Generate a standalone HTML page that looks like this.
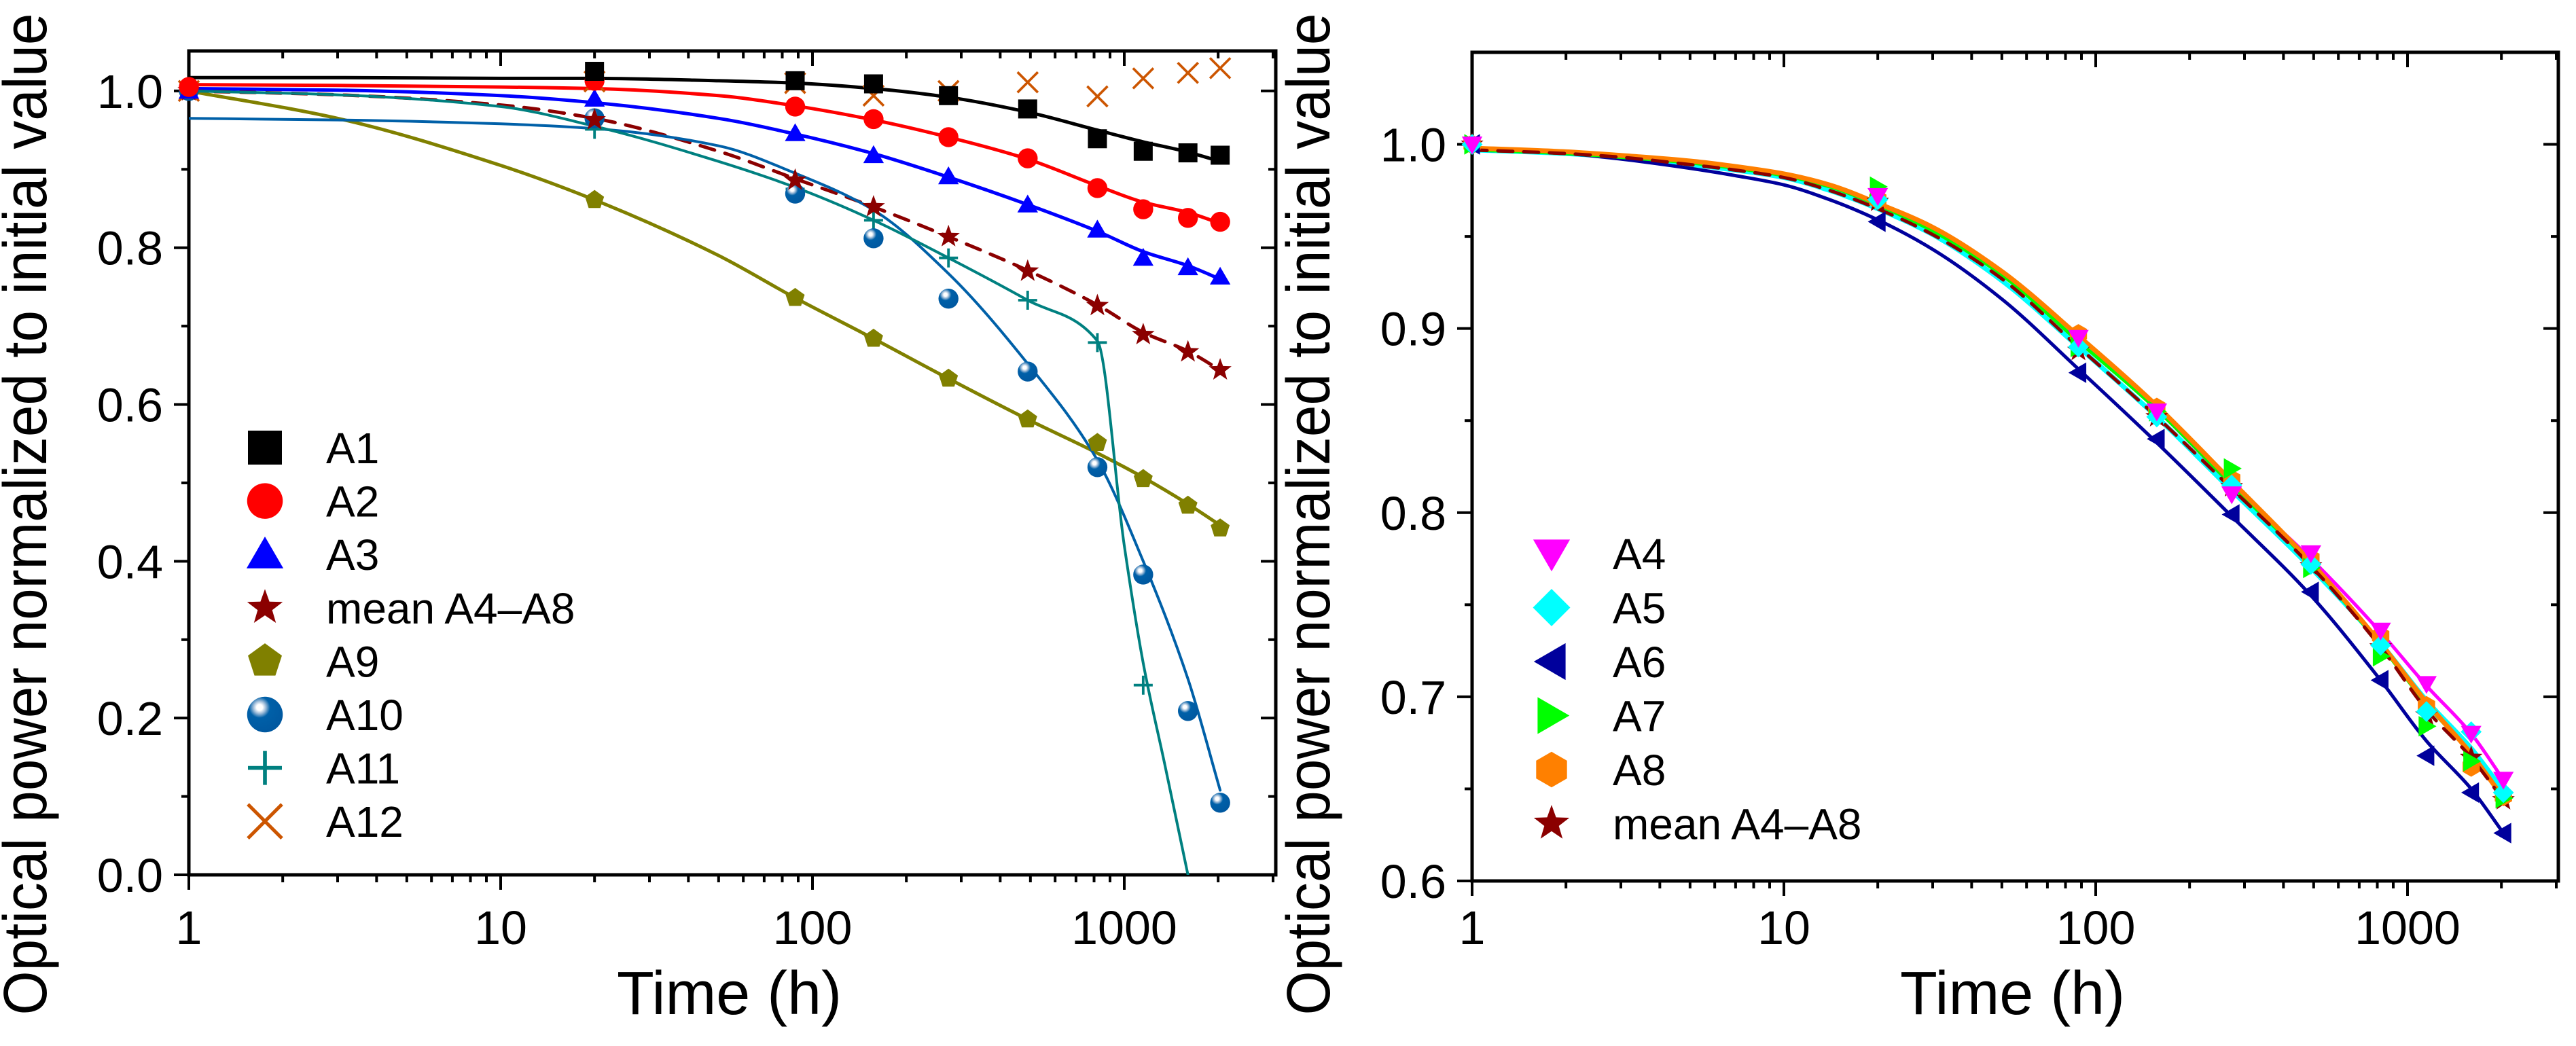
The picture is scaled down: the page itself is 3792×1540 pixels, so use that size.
<!DOCTYPE html>
<html><head><meta charset="utf-8"><style>
html,body{margin:0;padding:0;background:#fff;}
svg{display:block;font-family:"Liberation Sans",Arial,sans-serif;}
</style></head><body>
<svg id="chart" xmlns="http://www.w3.org/2000/svg" width="3792" height="1540" viewBox="0 0 3792 1540">
<defs>
<radialGradient id="sph" cx="0.35" cy="0.3" r="0.7">
<stop offset="0" stop-color="#ffffff"/><stop offset="0.12" stop-color="#ffffff"/><stop offset="0.25" stop-color="#9dbbd8"/><stop offset="0.42" stop-color="#0060a8"/><stop offset="1" stop-color="#0058a0"/>
</radialGradient>
</defs>
<g id="left"></g>
<g id="right"></g>
</svg>
<script>
// ---------- data ----------
const times = [1, 20, 88, 157, 273, 490, 820, 1150, 1600, 2030];
const xTickLabels = ["1", "10", "100", "1000"];
const leftYTicks = ["0.0", "0.2", "0.4", "0.6", "0.8", "1.0"];
const rightYTicks = ["0.6", "0.7", "0.8", "0.9", "1.0"];

const a1 = [null, 1.025, 1.013, 1.009, 0.994, 0.977, 0.939, 0.923, 0.921, 0.918];
const a2 = [1.005, 1.013, 0.980, 0.964, 0.941, 0.914, 0.876, 0.849, 0.838, 0.833];
const a3 = [1.0, 0.990, 0.946, 0.918, 0.891, 0.855, 0.823, 0.787, 0.775, 0.763];
const meanL = [1.0, 0.963, 0.886, 0.852, 0.814, 0.770, 0.726, 0.689, 0.667, 0.644];
const a9 = [1.0, 0.861, 0.736, 0.684, 0.633, 0.581, 0.551, 0.505, 0.471, 0.442];
const a10 = [1.0, 0.965, 0.869, 0.812, 0.735, 0.642, 0.520, 0.383, 0.209, 0.092];
const a11 = [1.0, 0.951, 0.875, 0.835, 0.787, 0.733, 0.679, 0.242, null, null];
const a12 = [1.0, 1.012, 1.010, 0.994, 1.0, 1.011, 0.993, 1.016, 1.023, 1.029];

const fitT = [1, 3, 10, 20, 50, 88, 157, 273, 490, 820, 1150, 1600, 2030];
const a1Fit = [1.017, 1.017, 1.016, 1.016, 1.013, 1.010, 1.003, 0.992, 0.973, 0.950, 0.935, 0.922, 0.910];
const a2Fit = [1.008, 1.007, 1.005, 1.003, 0.994, 0.981, 0.963, 0.941, 0.913, 0.879, 0.858, 0.845, 0.831];
const a3Fit = [1.003, 1.001, 0.994, 0.985, 0.965, 0.945, 0.920, 0.890, 0.855, 0.821, 0.795, 0.777, 0.760];
const meanLFit = [1.0, 0.995, 0.982, 0.965, 0.923, 0.888, 0.852, 0.814, 0.771, 0.727, 0.692, 0.668, 0.644];
const a9Fit = [1.0, 0.965, 0.905, 0.861, 0.790, 0.736, 0.684, 0.633, 0.581, 0.538, 0.507, 0.473, 0.446];
const a10Fit = [0.965, 0.963, 0.958, 0.952, 0.930, 0.895, 0.848, 0.767, 0.652, 0.529, 0.400, 0.250, 0.108];
const a11FitT = [1, 3, 10, 20, 50, 88, 157, 273, 490, 820, 1000, 1150, 1350, 1600];
const a11Fit = [1.0, 0.995, 0.980, 0.955, 0.910, 0.877, 0.835, 0.787, 0.733, 0.681, 0.42, 0.27, 0.14, 0.0];

const a4 = [1.0, 0.972, 0.895, 0.855, 0.810, 0.778, 0.736, 0.707, 0.680, 0.655];
const a5 = [1.0, 0.970, 0.890, 0.852, 0.815, 0.772, 0.728, 0.692, 0.681, 0.648];
const a6 = [1.0, 0.958, 0.876, 0.840, 0.799, 0.757, 0.709, 0.668, 0.648, 0.626];
const a7 = [1.0, 0.977, 0.890, 0.855, 0.824, 0.770, 0.722, 0.684, 0.665, 0.645];
const a8 = [1.0, 0.970, 0.897, 0.857, 0.818, 0.775, 0.733, 0.695, 0.662, 0.646];
const meanR = [1.0, 0.969, 0.888, 0.852, 0.814, 0.771, 0.727, 0.690, 0.667, 0.644];
const rFitT = [1, 2, 3, 5, 7, 10, 14, 20, 30, 50, 88, 157, 273, 490, 820, 1150, 1600, 2030];
const a4Fit = [0.997, 0.995, 0.993, 0.990, 0.987, 0.983, 0.977, 0.967, 0.953, 0.929, 0.893, 0.856, 0.815, 0.775, 0.735, 0.706, 0.680, 0.655];
const a5Fit = [0.997, 0.995, 0.993, 0.989, 0.986, 0.982, 0.975, 0.965, 0.951, 0.926, 0.890, 0.852, 0.812, 0.770, 0.729, 0.698, 0.672, 0.649];
const a6Fit = [0.997, 0.995, 0.992, 0.987, 0.983, 0.978, 0.970, 0.959, 0.943, 0.916, 0.878, 0.838, 0.798, 0.755, 0.709, 0.676, 0.650, 0.626];
const a7Fit = [0.997, 0.995, 0.993, 0.990, 0.987, 0.983, 0.977, 0.967, 0.953, 0.929, 0.893, 0.856, 0.815, 0.772, 0.728, 0.696, 0.669, 0.645];
const a8Fit = [0.998, 0.996, 0.994, 0.991, 0.988, 0.984, 0.978, 0.968, 0.955, 0.931, 0.896, 0.858, 0.817, 0.773, 0.729, 0.697, 0.669, 0.645];
const meanRFit = [0.997, 0.995, 0.993, 0.989, 0.986, 0.982, 0.975, 0.965, 0.951, 0.927, 0.890, 0.852, 0.813, 0.771, 0.727, 0.693, 0.667, 0.644];

// ---------- helpers ----------
const NS = "http://www.w3.org/2000/svg";
function mk(parent, tag, attrs) {
  const e = document.createElementNS(NS, tag);
  for (const k in attrs) e.setAttribute(k, attrs[k]);
  parent.appendChild(e);
  return e;
}
function smoothPath(pts) {
  const n = pts.length;
  const dx = [], m = [], t = [];
  for (let i = 0; i < n - 1; i++) { dx.push(pts[i + 1][0] - pts[i][0]); m.push((pts[i + 1][1] - pts[i][1]) / dx[i]); }
  t[0] = m[0]; t[n - 1] = m[n - 2];
  for (let i = 1; i < n - 1; i++) {
    if (m[i - 1] * m[i] <= 0) t[i] = 0;
    else { const w1 = 2 * dx[i] + dx[i - 1], w2 = dx[i] + 2 * dx[i - 1]; t[i] = (w1 + w2) / (w1 / m[i - 1] + w2 / m[i]); }
  }
  let d = "M" + pts[0][0].toFixed(1) + "," + pts[0][1].toFixed(1);
  for (let i = 0; i < n - 1; i++) {
    const h = dx[i] / 3;
    d += " C" + (pts[i][0] + h).toFixed(1) + "," + (pts[i][1] + t[i] * h).toFixed(1) + " " + (pts[i + 1][0] - h).toFixed(1) + "," + (pts[i + 1][1] - t[i + 1] * h).toFixed(1) + " " + pts[i + 1][0].toFixed(1) + "," + pts[i + 1][1].toFixed(1);
  }
  return d;
}
function marker(g, type, cx, cy, s, color) {
  let e;
  const r = s / 2;
  const poly = (n, rot, rr) => { const p = []; for (let i = 0; i < n; i++) { const a = rot + i * 2 * Math.PI / n; p.push((cx + rr * Math.cos(a)).toFixed(1) + "," + (cy + rr * Math.sin(a)).toFixed(1)); } return p.join(" "); };
  if (type === "square") e = mk(g, "rect", {x: cx - r, y: cy - r, width: s, height: s, fill: color});
  else if (type === "circle") e = mk(g, "ellipse", {cx: cx, cy: cy, rx: r * 1.05, ry: r * 1.05, fill: color});
  else if (type === "sphere") e = mk(g, "circle", {cx: cx, cy: cy, r: r * 1.05, fill: "url(#sph)"});
  else if (type === "up") e = mk(g, "polygon", {points: poly(3, -Math.PI / 2, r * 1.25), fill: color, transform: "translate(0," + (r * 0.2) + ")"});
  else if (type === "down") e = mk(g, "polygon", {points: poly(3, Math.PI / 2, r * 1.25), fill: color, transform: "translate(0," + (-r * 0.2) + ")"});
  else if (type === "left") e = mk(g, "polygon", {points: poly(3, Math.PI, r * 1.25), fill: color, transform: "translate(" + (r * 0.2) + ",0)"});
  else if (type === "right") e = mk(g, "polygon", {points: poly(3, 0, r * 1.25), fill: color, transform: "translate(" + (-r * 0.2) + ",0)"});
  else if (type === "diamond") e = mk(g, "polygon", {points: poly(4, 0, r * 1.1), fill: color});
  else if (type === "pentagon") e = mk(g, "polygon", {points: poly(5, -Math.PI / 2, r * 1.05), fill: color});
  else if (type === "hexagon") e = mk(g, "polygon", {points: poly(6, -Math.PI / 2, r * 1.05), fill: color});
  else if (type === "star") {
    const p = [];
    for (let i = 0; i < 10; i++) { const a = -Math.PI / 2 + i * Math.PI / 5; const rr = i % 2 ? r * 0.45 : r * 1.1; p.push((cx + rr * Math.cos(a)).toFixed(1) + "," + (cy + rr * Math.sin(a)).toFixed(1)); }
    e = mk(g, "polygon", {points: p.join(" "), fill: color});
  }
  else if (type === "plus") e = mk(g, "path", {d: "M" + (cx - r) + "," + cy + "H" + (cx + r) + "M" + cx + "," + (cy - r) + "V" + (cy + r), stroke: color, "stroke-width": s / 12 + 1.5, fill: "none"});
  else if (type === "cross") e = mk(g, "path", {d: "M" + (cx - r) + "," + (cy - r) + "L" + (cx + r) + "," + (cy + r) + "M" + (cx + r) + "," + (cy - r) + "L" + (cx - r) + "," + (cy + r), stroke: color, "stroke-width": s / 14 + 1.5, fill: "none"});
  return e;
}

function panel(g, cfg) {
  const X0 = cfg.x0, X1 = cfg.x1, Y0 = cfg.ytop, Y1 = cfg.ybot, DEC = 459;
  const xs = t => X0 + Math.log10(t) * DEC;
  const ys = v => Y1 - (v - cfg.vmin) / (cfg.vmax - cfg.vmin) * (Y1 - Y0);
  const axes = mk(g, "g", {});
  
  
  for (let dec = 0; dec < 4; dec++) {
    for (let m = 1; m < 10; m++) {
      const t = m * Math.pow(10, dec);
      const x = xs(t);
      if (x > X1 - 2) continue;
      const L = m === 1 ? 22 : 11;
      mk(axes, "line", {x1: x, x2: x, y1: Y1, y2: Y1 + L, stroke: "#000", "stroke-width": 4});
      mk(axes, "line", {x1: x, x2: x, y1: Y0, y2: Y0 + L, stroke: "#000", "stroke-width": 4});
    }
  }
  xTickLabels.forEach((lab, i) => {
    const tx = mk(axes, "text", {x: xs(Math.pow(10, i)), y: 1390, "font-size": 70, "text-anchor": "middle"});
    tx.textContent = lab;
    
    
  });
  const n = cfg.yLabels.length;
  for (let i = 0; i < n; i++) {
    const v = parseFloat(cfg.yLabels[i]);
    const y = ys(v);
    mk(axes, "line", {x1: X0 - 22, x2: X0, y1: y, y2: y, stroke: "#000", "stroke-width": 4});
    mk(axes, "line", {x1: X1 - 22, x2: X1, y1: y, y2: y, stroke: "#000", "stroke-width": 4});
    const tx = mk(axes, "text", {x: X0 - 38, y: y + 25, "font-size": 70, "text-anchor": "end"});
    tx.textContent = cfg.yLabels[i];
    
    
    const vm = v + cfg.ystep / 2;
    if (vm < cfg.vmax) {
      const ym = ys(vm);
      mk(axes, "line", {x1: X0 - 11, x2: X0, y1: ym, y2: ym, stroke: "#000", "stroke-width": 4});
      mk(axes, "line", {x1: X1 - 11, x2: X1, y1: ym, y2: ym, stroke: "#000", "stroke-width": 4});
    }
  }
  mk(axes, "rect", {x: X0, y: Y0, width: X1 - X0, height: Y1 - Y0, fill: "none", stroke: "#000", "stroke-width": 5});
  const xt = mk(axes, "text", {x: X0 + 630, y: 1493, "font-size": 90, textLength: 331, lengthAdjust: "spacingAndGlyphs"});
  xt.textContent = "Time (h)";
  
  
  const yt = mk(axes, "text", {x: 0, y: 0, "font-size": 90, "text-anchor": "middle", textLength: 1475, lengthAdjust: "spacingAndGlyphs", transform: "translate(" + (X0 - 210) + ",757) rotate(-90)"});
  yt.textContent = "Optical power normalized to initial value";
  
  

  const clipId = "clip" + cfg.id;
  const cp = mk(mk(g, "defs", {}), "clipPath", {id: clipId});
  mk(cp, "rect", {x: X0, y: Y0, width: X1 - X0, height: Y1 - Y0});
  const lines = mk(g, "g", {"clip-path": "url(#" + clipId + ")"});
  
  
  cfg.series.forEach(s => {
    if (!s.fit) return;
    const pts = s.fitT.map((t, i) => [xs(t), ys(s.fit[i])]);
    const p = mk(lines, "path", {d: smoothPath(pts), fill: "none", stroke: s.line || s.color, "stroke-width": s.lw || 5, "stroke-linecap": "round"});
    if (s.dash) p.setAttribute("stroke-dasharray", "22 16");
    
    
  });
  const marks = mk(g, "g", {});
  
  
  cfg.series.slice().reverse().forEach(s => {
    s.vals.forEach((v, i) => {
      if (v === null) return;
      const m = marker(marks, s.type, xs(times[i]), ys(v), s.ms || 28, s.color);
      
      
    });
  });
  const leg = mk(g, "g", {});
  
  
  cfg.series.forEach((s, i) => {
    const y = cfg.legY + i * cfg.legDy;
    const row = mk(leg, "g", {});
    
    
    marker(row, s.type, cfg.legX, y, 50, s.color);
    const tx = mk(row, "text", {x: cfg.legX + 90, y: y + 23, "font-size": 64});
    tx.textContent = s.name;
  });
}

panel(document.getElementById("left"), {
  id: "L", x0: 278, x1: 1878, ytop: 75, ybot: 1288, vmin: 0, vmax: 1.051, yLabels: leftYTicks, ystep: 0.2,
  legX: 390, legY: 659, legDy: 78.6,
  series: [
    {name: "A1", vals: a1, fit: a1Fit, fitT: fitT, color: "#000000", type: "square"},
    {name: "A2", vals: a2, fit: a2Fit, fitT: fitT, color: "#ff0000", type: "circle"},
    {name: "A3", vals: a3, fit: a3Fit, fitT: fitT, color: "#0000ff", type: "up"},
    {name: "mean A4\u2013A8", vals: meanL, fit: meanLFit, fitT: fitT, color: "#8b0000", type: "star", dash: true, ms: 32},
    {name: "A9", vals: a9, fit: a9Fit, fitT: fitT, color: "#808000", type: "pentagon"},
    {name: "A10", vals: a10, fit: a10Fit, fitT: fitT, color: "#0060a8", type: "sphere", lw: 4},
    {name: "A11", vals: a11, fit: a11Fit, fitT: a11FitT, color: "#008080", type: "plus", lw: 4},
    {name: "A12", vals: a12, color: "#cc5500", type: "cross", ms: 30}
  ]
});
panel(document.getElementById("right"), {
  id: "R", x0: 2167, x1: 3766, ytop: 77, ybot: 1297, vmin: 0.6, vmax: 1.05, yLabels: rightYTicks, ystep: 0.1,
  legX: 2284, legY: 815, legDy: 79.5,
  series: [
    {name: "A4", vals: a4, fit: a4Fit, fitT: rFitT, color: "#ff00ff", type: "down"},
    {name: "A5", vals: a5, fit: a5Fit, fitT: rFitT, color: "#00ffff", type: "diamond", lw: 7},
    {name: "A6", vals: a6, fit: a6Fit, fitT: rFitT, color: "#00009c", type: "left"},
    {name: "A7", vals: a7, fit: a7Fit, fitT: rFitT, color: "#00ff00", type: "right"},
    {name: "A8", vals: a8, fit: a8Fit, fitT: rFitT, color: "#ff8000", type: "hexagon", lw: 7},
    {name: "mean A4\u2013A8", vals: meanR, fit: meanRFit, fitT: rFitT, color: "#8b0000", type: "star", dash: true, ms: 32}
  ]
});
</script>
</body></html>
